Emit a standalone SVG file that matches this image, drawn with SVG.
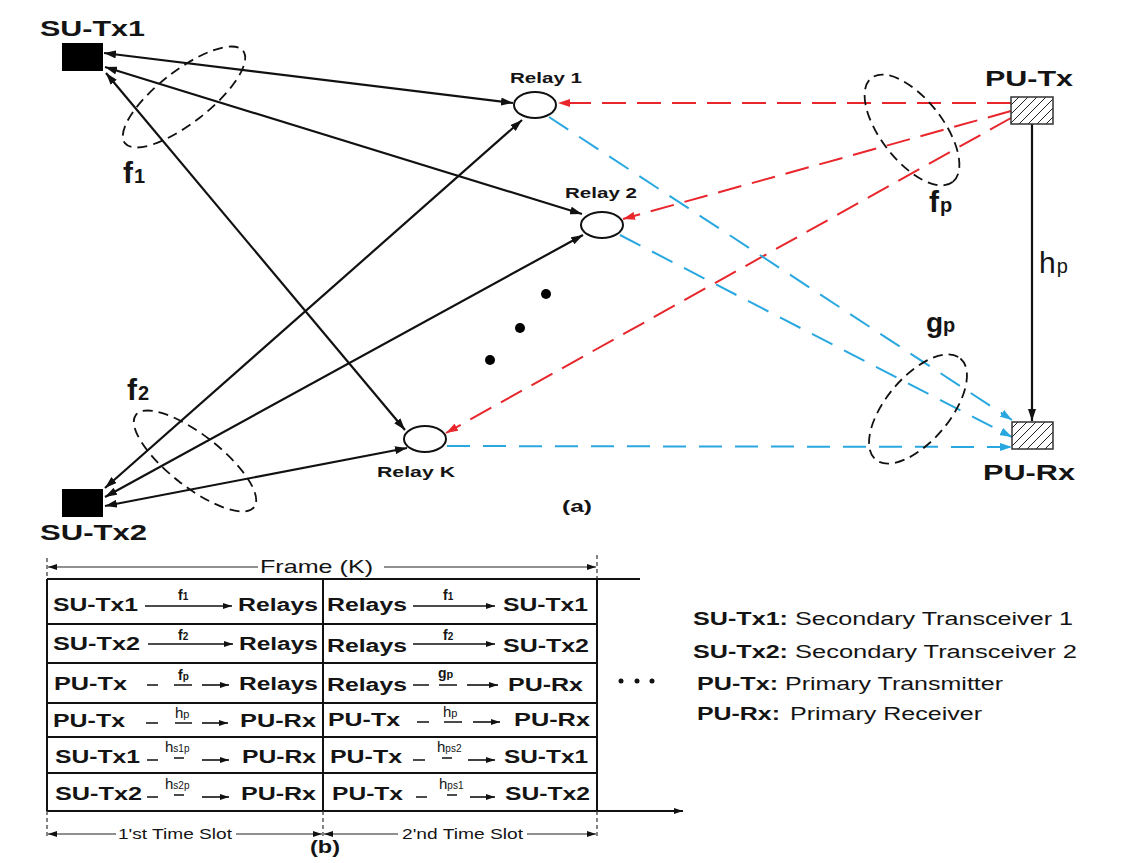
<svg xmlns="http://www.w3.org/2000/svg" width="1134" height="863" viewBox="0 0 1134 863">
<style>
text{font-family:"Liberation Sans",Arial,sans-serif;fill:#141414}
.b{font-weight:bold}
.blk{stroke:#111;stroke-width:2.2;fill:none}
.red{stroke:#e8262b;stroke-width:2;fill:none;stroke-dasharray:24 11}
.blu{stroke:#29a8e0;stroke-width:2;fill:none;stroke-dasharray:23 13}
.ell{stroke:#111;stroke-width:1.8;fill:none;stroke-dasharray:10 6}
.relay{fill:#fff;stroke:#111;stroke-width:2}
.tb{stroke:#111;stroke-width:2;fill:none}
.thin{stroke:#222;stroke-width:1.2;fill:none}
.tick{stroke:#333;stroke-width:1.2;stroke-dasharray:4 3;fill:none}
.ta{stroke:#111;stroke-width:1.6;fill:none}
.row{font-size:18px;font-weight:bold}
.lab{font-size:14px;font-weight:bold}
.labr{font-size:15px}
</style>
<defs>
<marker id="ab" viewBox="0 0 12 8" refX="12" refY="4" markerWidth="12" markerHeight="8" markerUnits="userSpaceOnUse" orient="auto-start-reverse"><path d="M0,0 L12,4 L0,8 z" fill="#111"/></marker>
<marker id="ar" viewBox="0 0 12 8" refX="12" refY="4" markerWidth="12" markerHeight="8" markerUnits="userSpaceOnUse" orient="auto"><path d="M0,0 L12,4 L0,8 z" fill="#e8262b"/></marker>
<marker id="au" viewBox="0 0 12 8" refX="12" refY="4" markerWidth="12" markerHeight="8" markerUnits="userSpaceOnUse" orient="auto"><path d="M0,0 L12,4 L0,8 z" fill="#29a8e0"/></marker>
<marker id="at" viewBox="0 0 9 6" refX="9" refY="3" markerWidth="9" markerHeight="6" markerUnits="userSpaceOnUse" orient="auto-start-reverse"><path d="M0,0 L9,3 L0,6 z" fill="#111"/></marker>
<pattern id="hatch" patternUnits="userSpaceOnUse" width="9" height="9"><path d="M-1,10 L10,-1 M-1,1 L1,-1 M8,10 L10,8" stroke="#222" stroke-width="1"/></pattern>
</defs>

<!-- connectors -->
<g id="connectors">
<line class="blk" x1="104" y1="53" x2="513" y2="103" marker-start="url(#ab)" marker-end="url(#ab)"/>
<line class="blk" x1="105" y1="67" x2="582" y2="214" marker-start="url(#ab)" marker-end="url(#ab)"/>
<line class="blk" x1="106" y1="73" x2="405" y2="430" marker-start="url(#ab)" marker-end="url(#ab)"/>
<line class="blk" x1="105" y1="488" x2="522" y2="120" marker-start="url(#ab)" marker-end="url(#ab)"/>
<line class="blk" x1="105" y1="497" x2="583" y2="235" marker-start="url(#ab)" marker-end="url(#ab)"/>
<line class="blk" x1="105" y1="506" x2="407" y2="448" marker-start="url(#ab)" marker-end="url(#ab)"/>
<line class="red" x1="1011" y1="103" x2="558" y2="103" marker-end="url(#ar)"/>
<line class="red" x1="1011" y1="111" x2="623" y2="219" marker-end="url(#ar)"/>
<line class="red" x1="1011" y1="118" x2="446" y2="433" marker-end="url(#ar)"/>
<line class="blu" x1="549" y1="117" x2="1012" y2="420" marker-end="url(#au)"/>
<line class="blu" x1="620" y1="235" x2="1012" y2="437" marker-end="url(#au)"/>
<line class="blu" x1="447" y1="446" x2="1012" y2="447" marker-end="url(#au)"/>
<line class="blk" x1="1032" y1="124" x2="1032" y2="421" marker-end="url(#ab)"/>
<ellipse class="ell" cx="184" cy="97" rx="75" ry="26" transform="rotate(-38 184 97)"/>
<ellipse class="ell" cx="912" cy="130" rx="66" ry="31" transform="rotate(52 912 130)"/>
<ellipse class="ell" cx="918" cy="409" rx="66" ry="32" transform="rotate(-50 918 409)"/>
<ellipse class="ell" cx="195" cy="461" rx="75" ry="26" transform="rotate(38 195 461)"/>
</g>

<g id="su-tx1"><rect x="62" y="43" width="41" height="28" fill="#000"/><text class="b" x="40" y="36" font-size="22" textLength="105" lengthAdjust="spacingAndGlyphs">SU-Tx1</text></g>
<g id="su-tx2"><rect x="62" y="489" width="41" height="28" fill="#000"/><text class="b" x="40" y="540" font-size="22" textLength="107" lengthAdjust="spacingAndGlyphs">SU-Tx2</text></g>
<g id="pu-tx"><rect x="1011" y="97" width="42" height="27" fill="url(#hatch)" stroke="#333" stroke-width="1.5"/><text class="b" x="985" y="86" font-size="22" textLength="88" lengthAdjust="spacingAndGlyphs">PU-Tx</text></g>
<g id="pu-rx"><rect x="1012" y="422" width="41" height="27" fill="url(#hatch)" stroke="#333" stroke-width="1.5"/><text class="b" x="983" y="480" font-size="22" textLength="92" lengthAdjust="spacingAndGlyphs">PU-Rx</text></g>
<g id="relay1"><ellipse class="relay" cx="535" cy="105" rx="21" ry="13"/><text class="b" x="510" y="83" font-size="15" textLength="72" lengthAdjust="spacingAndGlyphs">Relay 1</text></g>
<g id="relay2"><ellipse class="relay" cx="602" cy="225" rx="21" ry="13"/><text class="b" x="565" y="198" font-size="15" textLength="72" lengthAdjust="spacingAndGlyphs">Relay 2</text></g>
<g id="relayK"><ellipse class="relay" cx="425" cy="439" rx="21" ry="13"/><text class="b" x="377" y="477" font-size="15" textLength="78" lengthAdjust="spacingAndGlyphs">Relay K</text></g>

<g id="dots"><circle cx="546" cy="294" r="5" fill="#000"/><circle cx="520" cy="328" r="5" fill="#000"/><circle cx="490" cy="360" r="5" fill="#000"/></g>

<g id="channel-labels">
<text class="b" x="123" y="183" font-size="30">f<tspan font-size="20" dx="1">1</tspan></text>
<text class="b" x="127" y="400" font-size="30">f<tspan font-size="20" dx="1">2</tspan></text>
<text class="b" x="929" y="212" font-size="30">f<tspan font-size="20" dx="1">p</tspan></text>
<text class="b" x="926" y="332" font-size="28">g<tspan font-size="20">p</tspan></text>
<text x="1039" y="273" font-size="30">h<tspan font-size="20" dx="1">p</tspan></text>
<text class="b" x="562" y="512" font-size="17" textLength="30" lengthAdjust="spacingAndGlyphs">(a)</text>
</g>

<!-- (b) frame table -->
<g id="frame-table">
<line class="tick" x1="47" y1="558" x2="47" y2="579"/>
<line class="tick" x1="597" y1="555" x2="597" y2="579"/>
<line class="thin" x1="258" y1="567" x2="48" y2="567" marker-end="url(#at)"/>
<line class="thin" x1="384" y1="567" x2="596" y2="567" marker-end="url(#at)"/>
<text x="260" y="573" font-size="19" textLength="113" lengthAdjust="spacingAndGlyphs">Frame (K)</text>
<line class="tb" x1="47" y1="579" x2="640" y2="579" stroke-width="1.5"/>
<line class="tb" x1="47" y1="624" x2="597" y2="624"/>
<line class="tb" x1="47" y1="663" x2="597" y2="663"/>
<line class="tb" x1="47" y1="703" x2="597" y2="703"/>
<line class="tb" x1="47" y1="737" x2="597" y2="737"/>
<line class="tb" x1="47" y1="773" x2="597" y2="773"/>
<line class="tb" x1="47" y1="579" x2="47" y2="811"/>
<line class="tb" x1="323" y1="579" x2="323" y2="811"/>
<line class="tb" x1="597" y1="579" x2="597" y2="811"/>
<line class="tb" x1="47" y1="811" x2="683" y2="811" stroke-width="1.5" marker-end="url(#at)"/>
<line class="tick" x1="47" y1="811" x2="47" y2="838"/>
<line class="tick" x1="323" y1="811" x2="323" y2="838"/>
<line class="tick" x1="597" y1="811" x2="597" y2="838"/>
<line class="thin" x1="116" y1="834" x2="48" y2="834" marker-end="url(#at)"/>
<line class="thin" x1="236" y1="834" x2="322" y2="834" marker-end="url(#at)"/>
<text x="118" y="839" font-size="15" textLength="114" lengthAdjust="spacingAndGlyphs">1'st Time Slot</text>
<line class="thin" x1="398" y1="834" x2="324" y2="834" marker-end="url(#at)"/>
<line class="thin" x1="527" y1="834" x2="596" y2="834" marker-end="url(#at)"/>
<text x="402" y="839" font-size="15" textLength="121" lengthAdjust="spacingAndGlyphs">2'nd Time Slot</text>
<text class="b" x="310" y="853" font-size="18" textLength="30" lengthAdjust="spacingAndGlyphs">(b)</text>

<!-- row 1 -->
<text class="row" x="53" y="611" textLength="85" lengthAdjust="spacingAndGlyphs">SU-Tx1</text>
<line class="ta" x1="145" y1="606" x2="232" y2="606" marker-end="url(#at)"/>
<text class="lab" x="178" y="600">f<tspan font-size="10">1</tspan></text>
<text class="row" x="238" y="611" textLength="80" lengthAdjust="spacingAndGlyphs">Relays</text>
<text class="row" x="327" y="611" textLength="80" lengthAdjust="spacingAndGlyphs">Relays</text>
<line class="ta" x1="413" y1="606" x2="495" y2="606" marker-end="url(#at)"/>
<text class="lab" x="443" y="600">f<tspan font-size="10">1</tspan></text>
<text class="row" x="503" y="611" textLength="85" lengthAdjust="spacingAndGlyphs">SU-Tx1</text>
<!-- row 2 -->
<text class="row" x="53" y="650" textLength="87" lengthAdjust="spacingAndGlyphs">SU-Tx2</text>
<line class="ta" x1="148" y1="644" x2="233" y2="644" marker-end="url(#at)"/>
<text class="lab" x="178" y="640">f<tspan font-size="10">2</tspan></text>
<text class="row" x="239" y="650" textLength="79" lengthAdjust="spacingAndGlyphs">Relays</text>
<text class="row" x="327" y="652" textLength="80" lengthAdjust="spacingAndGlyphs">Relays</text>
<line class="ta" x1="413" y1="644" x2="495" y2="644" marker-end="url(#at)"/>
<text class="lab" x="443" y="640">f<tspan font-size="10">2</tspan></text>
<text class="row" x="503" y="652" textLength="86" lengthAdjust="spacingAndGlyphs">SU-Tx2</text>
<!-- row 3 -->
<text class="row" x="54" y="690" textLength="73" lengthAdjust="spacingAndGlyphs">PU-Tx</text>
<path class="ta" d="M147,685 H158 M174,685 H192"/>
<line class="ta" x1="202" y1="685" x2="229" y2="685" marker-end="url(#at)"/>
<text class="lab" x="178" y="680">f<tspan font-size="10">p</tspan></text>
<text class="row" x="239" y="690" textLength="79" lengthAdjust="spacingAndGlyphs">Relays</text>
<text class="row" x="327" y="691" textLength="80" lengthAdjust="spacingAndGlyphs">Relays</text>
<path class="ta" d="M413,685 H429 M439,685 H457"/>
<line class="ta" x1="467" y1="685" x2="498" y2="685" marker-end="url(#at)"/>
<text class="lab" x="438" y="678" font-size="15">g<tspan font-size="11">p</tspan></text>
<text class="row" x="508" y="691" textLength="75" lengthAdjust="spacingAndGlyphs">PU-Rx</text>
<!-- row 4 -->
<text class="row" x="53" y="727" textLength="72" lengthAdjust="spacingAndGlyphs">PU-Tx</text>
<path class="ta" d="M146,723 H158 M175,723 H192"/>
<line class="ta" x1="202" y1="723" x2="228" y2="723" marker-end="url(#at)"/>
<text class="labr" x="175" y="718">h<tspan font-size="11">p</tspan></text>
<text class="row" x="240" y="727" textLength="76" lengthAdjust="spacingAndGlyphs">PU-Rx</text>
<text class="row" x="328" y="726" textLength="72" lengthAdjust="spacingAndGlyphs">PU-Tx</text>
<path class="ta" d="M417,722 H429 M444,722 H462"/>
<line class="ta" x1="473" y1="722" x2="500" y2="722" marker-end="url(#at)"/>
<text class="labr" x="443" y="717">h<tspan font-size="11">p</tspan></text>
<text class="row" x="514" y="726" textLength="76" lengthAdjust="spacingAndGlyphs">PU-Rx</text>
<!-- row 5 -->
<text class="row" x="55" y="763" textLength="85" lengthAdjust="spacingAndGlyphs">SU-Tx1</text>
<path class="ta" d="M147,760 H158 M174,758 H184"/>
<line class="ta" x1="202" y1="760" x2="229" y2="760" marker-end="url(#at)"/>
<text class="labr" x="165" y="752">h<tspan font-size="10">s1p</tspan></text>
<text class="row" x="242" y="763" textLength="74" lengthAdjust="spacingAndGlyphs">PU-Rx</text>
<text class="row" x="330" y="763" textLength="72" lengthAdjust="spacingAndGlyphs">PU-Tx</text>
<path class="ta" d="M413,760 H425 M442,758 H452"/>
<line class="ta" x1="468" y1="760" x2="495" y2="760" marker-end="url(#at)"/>
<text class="labr" x="437" y="752">h<tspan font-size="10">ps2</tspan></text>
<text class="row" x="504" y="763" textLength="84" lengthAdjust="spacingAndGlyphs">SU-Tx1</text>
<!-- row 6 -->
<text class="row" x="55" y="800" textLength="87" lengthAdjust="spacingAndGlyphs">SU-Tx2</text>
<path class="ta" d="M147,797 H158 M174,795 H184"/>
<line class="ta" x1="202" y1="797" x2="229" y2="797" marker-end="url(#at)"/>
<text class="labr" x="165" y="789">h<tspan font-size="10">s2p</tspan></text>
<text class="row" x="241" y="800" textLength="75" lengthAdjust="spacingAndGlyphs">PU-Rx</text>
<text class="row" x="332" y="800" textLength="71" lengthAdjust="spacingAndGlyphs">PU-Tx</text>
<path class="ta" d="M416,797 H427 M447,795 H457"/>
<line class="ta" x1="470" y1="797" x2="495" y2="797" marker-end="url(#at)"/>
<text class="labr" x="439" y="789">h<tspan font-size="10">ps1</tspan></text>
<text class="row" x="505" y="800" textLength="85" lengthAdjust="spacingAndGlyphs">SU-Tx2</text>
<circle cx="621" cy="681" r="2.5" fill="#111"/><circle cx="637" cy="681" r="2.5" fill="#111"/><circle cx="652" cy="681" r="2.5" fill="#111"/>
</g>

<g id="legend" font-size="18">
<text x="693" y="625"><tspan class="b" textLength="95" lengthAdjust="spacingAndGlyphs">SU-Tx1:</tspan></text>
<text x="795" y="625" textLength="278" lengthAdjust="spacingAndGlyphs">Secondary Transceiver 1</text>
<text x="693" y="658"><tspan class="b" textLength="95" lengthAdjust="spacingAndGlyphs">SU-Tx2:</tspan></text>
<text x="795" y="658" textLength="282" lengthAdjust="spacingAndGlyphs">Secondary Transceiver 2</text>
<text x="697" y="690"><tspan class="b" textLength="81" lengthAdjust="spacingAndGlyphs">PU-Tx:</tspan></text>
<text x="785" y="690" textLength="218" lengthAdjust="spacingAndGlyphs">Primary Transmitter</text>
<text x="697" y="720"><tspan class="b" textLength="83" lengthAdjust="spacingAndGlyphs">PU-Rx:</tspan></text>
<text x="790" y="720" textLength="192" lengthAdjust="spacingAndGlyphs">Primary Receiver</text>
</g>
</svg>
